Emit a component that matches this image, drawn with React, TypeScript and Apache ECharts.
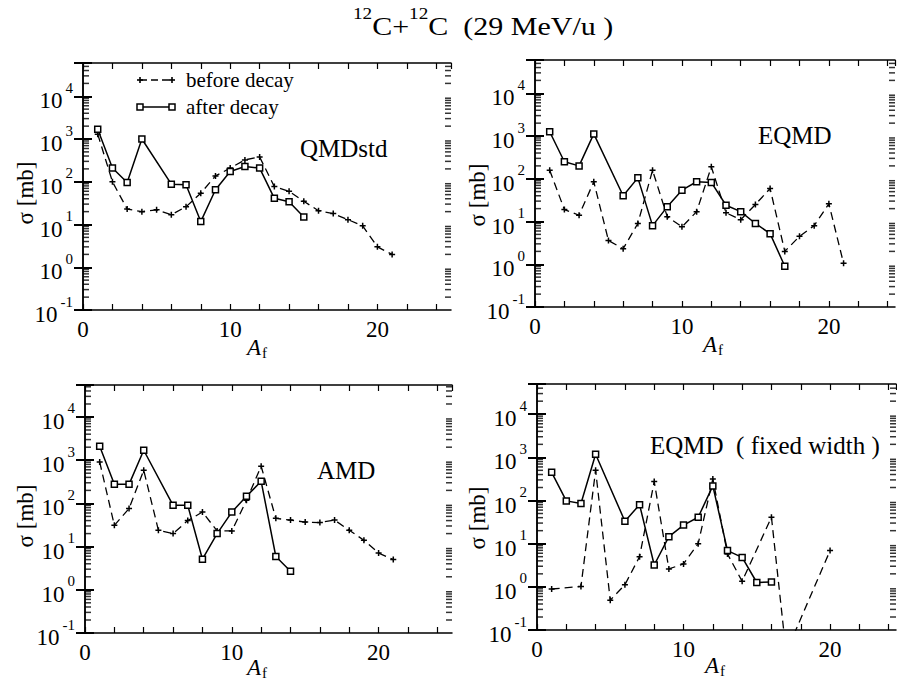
import React, { useEffect, useRef } from "react";
import * as echarts from "echarts";

const SERIF = "Liberation Serif";

// ---------- data (A_f, sigma [mb]) ----------
const qmdBeforeA = [1, 2, 3, 4, 5, 6, 7, 8, 9, 10, 11, 12, 13, 14, 15, 16, 17, 18, 19, 20, 21];
const qmdBefore = [1300, 100, 23, 20, 22, 17, 26, 54, 137, 209, 325, 380, 77, 60, 35, 21, 18, 13, 9.3, 3.0, 2.0];
const qmdAfterA = [1, 2, 3, 4, 6, 7, 8, 9, 10, 11, 12, 13, 14, 15];
const qmdAfter = [1700, 209, 96, 1000, 88, 85, 11.7, 65, 174, 227, 209, 41, 34, 15];

const eqmdBeforeA = [1, 2, 3, 4, 5, 6, 7, 8, 9, 10, 11, 12, 13, 14, 15, 16, 17, 18, 19, 20, 21];
const eqmdBefore = [158, 19, 14, 85, 3.6, 2.3, 9, 158, 13, 7.5, 17, 190, 16, 11, 25, 59, 2.0, 4.5, 8, 26, 1.05];
const eqmdAfterA = [1, 2, 3, 4, 6, 7, 8, 9, 10, 11, 12, 13, 14, 15, 16, 17];
const eqmdAfter = [1260, 250, 200, 1120, 40, 105, 8, 22, 54, 85, 82, 24, 17, 9, 5.2, 0.9];

const amdBeforeA = [1, 2, 3, 4, 5, 6, 7, 8, 9, 10, 11, 12, 13, 14, 15, 16, 17, 18, 19, 20, 21];
const amdBefore = [910, 31, 76, 585, 24, 20, 40, 63, 23, 23, 118, 725, 45, 41, 37, 36, 41, 24, 14, 7.1, 5.0];
const amdAfterA = [1, 2, 3, 4, 6, 7, 8, 9, 10, 11, 12, 13, 14];
const amdAfter = [2100, 276, 276, 1700, 90, 90, 5.1, 20, 63, 146, 324, 5.9, 2.7];

const fixBeforeA = [1, 3, 4, 5, 6, 7, 8, 9, 10, 11, 12, 13, 14, 16, 17, 20];
const fixBefore = [0.89, 1.02, 500, 0.49, 1.12, 5.0, 275, 2.6, 3.4, 10, 315, 5.8, 1.34, 41, 0.03, 6.9];
const fixAfterA = [1, 2, 3, 4, 6, 7, 8, 9, 10, 11, 12, 13, 14, 15, 16];
const fixAfter = [450, 98, 85, 1180, 33, 80, 3.2, 14.5, 27, 41, 218, 6.9, 4.8, 1.26, 1.3];

const panelNames = ["QMDstd", "EQMD", "AMD", "EQMD  ( fixed width )"];
const seriesNames = ["before decay", "after decay"];
const xLabelValues = [0, 10, 20];
const minorMult = [2, 3, 4, 5, 6, 7, 8, 9];
const decades = [-1, 0, 1, 2, 3, 4];

const panels = [
  { bx: qmdBeforeA, by: qmdBefore, ax: qmdAfterA, ay: qmdAfter },
  { bx: eqmdBeforeA, by: eqmdBefore, ax: eqmdAfterA, ay: eqmdAfter },
  { bx: amdBeforeA, by: amdBefore, ax: amdAfterA, ay: amdAfter },
  { bx: fixBeforeA, by: fixBefore, ax: fixAfterA, ay: fixAfter },
];

// ---------- layout ----------
const grids = [
  { left: 83, top: 63, width: 368, height: 247 },
  { left: 535, top: 60, width: 360, height: 247 },
  { left: 85, top: 385, width: 367, height: 248 },
  { left: 537, top: 384, width: 359, height: 246 },
];
const xMax = [25, 24.5, 25, 24.5];
const yMax = [6e4, 6e4, 5.5e4, 5e4];
const panelLabelPos = [
  [300, 148],
  [758, 135],
  [317, 470],
  [650, 445],
];

const PLUS = "path://M3,0H5V3H8V5H5V8H3V5H0V3H3Z";

const zip = (xs: number[], ys: number[]) => xs.map((x, i) => [x, ys[i]]);

export default function App() {
  const ref = useRef<HTMLDivElement>(null);
  useEffect(() => {
    document.body.style.margin = "0";
    if (!ref.current) return;
    const chart = echarts.init(ref.current, undefined, { renderer: "svg" });

    const xAxis: any[] = [];
    const yAxis: any[] = [];
    const series: any[] = [];

    const yFmt = (v: number) => {
      const l = Math.log10(v);
      const n = Math.round(l);
      if (Math.abs(l - n) > 1e-6) return "";
      return `{b|10}{s|${n}}`;
    };

    grids.forEach((g, i) => {
      const common = {
        gridIndex: i,
        axisLine: { show: true, lineStyle: { color: "#000", width: 1.5 } },
        splitLine: { show: false },
      };
      xAxis.push({
        ...common,
        type: "value",
        min: 0,
        max: xMax[i],
        interval: 2,
        position: "bottom",
        axisTick: { show: true, inside: true, length: 6, lineStyle: { color: "#000", width: 1.2 } },
        axisLabel: {
          margin: 8,
          fontSize: 23,
          fontFamily: SERIF,
          color: "#000",
          showMaxLabel: false,
          formatter: (v: number) => (xLabelValues.includes(v) ? String(v) : ""),
        },
      });
      xAxis.push({
        ...common,
        type: "value",
        min: 0,
        max: xMax[i],
        interval: 2,
        position: "top",
        axisTick: { show: true, inside: true, length: 6, lineStyle: { color: "#000", width: 1.2 } },
        axisLabel: { show: false },
      });
      yAxis.push({
        ...common,
        type: "log",
        logBase: 10,
        min: 0.1,
        max: yMax[i],
        position: "left",
        axisTick: { show: true, inside: true, length: 9, lineStyle: { color: "#000", width: 2 } },
        axisLabel: {
          margin: 10,
          fontFamily: SERIF,
          fontSize: 22,
          color: "#000",
          formatter: yFmt,
          rich: {
            b: { fontSize: 23, fontFamily: SERIF, color: "#000", verticalAlign: "bottom", padding: [9, 0, 0, 0] },
            s: { fontSize: 15, fontFamily: SERIF, color: "#000", verticalAlign: "top", padding: [0, 0, 0, 3] },
          },
        },
      });
      yAxis.push({
        ...common,
        type: "log",
        logBase: 10,
        min: 0.1,
        max: yMax[i],
        position: "right",
        axisTick: { show: true, inside: true, length: 9, lineStyle: { color: "#000", width: 2 } },
        axisLabel: { show: false },
      });

      // minor log ticks (2..9 x 10^n) on the left and right frame edges
      const minorVals: number[] = [];
      decades.forEach((d) =>
        minorMult.forEach((k) => {
          const v = k * Math.pow(10, d);
          if (v < yMax[i]) minorVals.push(v);
        })
      );
      const tickSeries = (xv: number, off: number) => ({
        type: "scatter",
        xAxisIndex: 2 * i,
        yAxisIndex: 2 * i,
        silent: true,
        clip: false,
        z: 5,
        symbol: "rect",
        symbolSize: [6, 1.5],
        symbolOffset: [off, 0],
        itemStyle: { color: "#000" },
        data: minorVals.map((v) => [xv, v]),
      });
      series.push(tickSeries(0.001, 3));
      series.push(tickSeries(xMax[i], -3));

      const p = panels[i];
      series.push({
        type: "line",
        name: seriesNames[0],
        xAxisIndex: 2 * i,
        yAxisIndex: 2 * i,
        data: zip(p.bx, p.by),
        symbol: PLUS,
        symbolSize: 6,
        clip: true,
        z: 2,
        itemStyle: { color: "#000" },
        lineStyle: { color: "#000", width: 1.3, type: [8, 5] },
      });
      series.push({
        type: "line",
        name: seriesNames[1],
        xAxisIndex: 2 * i,
        yAxisIndex: 2 * i,
        data: zip(p.ax, p.ay),
        symbol: "rect",
        symbolSize: 6,
        clip: true,
        z: 3,
        itemStyle: { color: "#fff", borderColor: "#000", borderWidth: 1.5 },
        lineStyle: { color: "#000", width: 1.5, type: "solid" },
      });
    });

    const graphic: any[] = [];
    graphic.push({
      type: "text",
      x: 353,
      y: 22,
      scaleX: 1.2,
      style: {
        text: "{s|12}{b|C+}{s|12}{b|C  (29 MeV/u )}",
        verticalAlign: "middle",
        rich: {
          b: { fontSize: 25, fontFamily: SERIF, fill: "#000", verticalAlign: "bottom", padding: [8, 0, 0, 0] },
          s: { fontSize: 16, fontFamily: SERIF, fill: "#000", verticalAlign: "top" },
        },
      },
    });
    const yTitlePos = [
      [25, 193],
      [477, 195],
      [25, 516],
      [477, 518],
    ];
    const xTitlePos = [
      [257, 348],
      [713, 345],
      [257, 668],
      [715, 666],
    ];
    yTitlePos.forEach(([x, y]) =>
      graphic.push({
        type: "text",
        x,
        y,
        rotation: Math.PI / 2,
        style: { text: "σ [mb]", fontSize: 23, fontFamily: SERIF, fill: "#000", align: "center", verticalAlign: "middle" },
      })
    );
    xTitlePos.forEach(([x, y]) =>
      graphic.push({
        type: "text",
        x,
        y,
        style: {
          text: "{a|A}{f|f}",
          align: "center",
          verticalAlign: "middle",
          rich: {
            a: { fontSize: 23, fontStyle: "italic", fontFamily: SERIF, fill: "#000", verticalAlign: "top" },
            f: { fontSize: 15, fontFamily: SERIF, fill: "#000", verticalAlign: "top", padding: [9, 0, 0, 1] },
          },
        },
      })
    );
    panelNames.forEach((name, i) =>
      graphic.push({
        type: "text",
        x: panelLabelPos[i][0],
        y: panelLabelPos[i][1],
        style: { text: name, fontSize: 25, fontFamily: SERIF, fill: "#000", verticalAlign: "middle" },
      })
    );
    // legend (drawn inside the first panel)
    const lx1 = 140,
      lx2 = 172;
    const ly1 = 80,
      ly2 = 107;
    graphic.push({
      type: "line",
      shape: { x1: lx1, y1: ly1, x2: lx2, y2: ly1 },
      style: { stroke: "#000", lineWidth: 1.3, lineDash: [7, 4] },
    });
    [lx1, lx2].forEach((x) => {
      graphic.push({ type: "rect", shape: { x: x - 3, y: ly1 - 0.8, width: 6, height: 1.6 }, style: { fill: "#000" } });
      graphic.push({ type: "rect", shape: { x: x - 0.8, y: ly1 - 3, width: 1.6, height: 6 }, style: { fill: "#000" } });
    });
    graphic.push({
      type: "line",
      shape: { x1: lx1, y1: ly2, x2: lx2, y2: ly2 },
      style: { stroke: "#000", lineWidth: 1.5 },
    });
    [lx1, lx2].forEach((x) =>
      graphic.push({
        type: "rect",
        shape: { x: x - 3, y: ly2 - 3, width: 6, height: 6 },
        style: { fill: "#fff", stroke: "#000", lineWidth: 1.5 },
      })
    );
    graphic.push({
      type: "text",
      x: 186,
      y: ly1,
      style: { text: seriesNames[0], fontSize: 21, fontFamily: SERIF, fill: "#000", verticalAlign: "middle" },
    });
    graphic.push({
      type: "text",
      x: 186,
      y: ly2,
      style: { text: seriesNames[1], fontSize: 21, fontFamily: SERIF, fill: "#000", verticalAlign: "middle" },
    });

    chart.setOption({
      animation: false,
      backgroundColor: "#fff",
      textStyle: { fontFamily: SERIF },
      grid: grids.map((g) => ({ ...g, containLabel: false })),
      xAxis,
      yAxis,
      series,
      graphic,
    });
    return () => chart.dispose();
  }, []);
  return <div ref={ref} style={{ width: 897, height: 683 }} />;
}
